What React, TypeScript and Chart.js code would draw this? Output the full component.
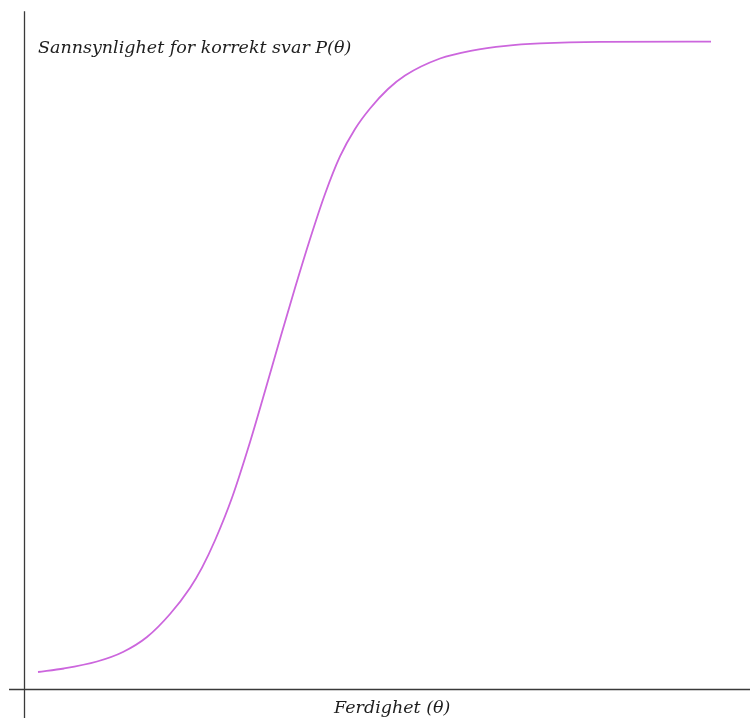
import React, { useEffect, useRef } from "react";
import { Chart, registerables } from "chart.js";

Chart.register(...registerables);

// Ability θ (arbitrary units, axis origin at 0) and probability of a correct answer P(θ)
const theta = [0.2, 0.571, 1.043, 1.414, 1.757, 2.086, 2.371, 2.543, 2.729, 2.971, 3.229, 3.443, 3.657, 3.871, 4.086, 4.3, 4.514, 4.729, 4.943, 5.2, 5.443, 5.943, 6.4, 6.886, 7.371, 8.229, 9.814];
const prob = [0.0262, 0.0316, 0.0424, 0.0571, 0.0802, 0.1157, 0.1559, 0.1873, 0.2295, 0.2951, 0.3812, 0.4599, 0.5401, 0.6188, 0.6944, 0.7639, 0.8218, 0.8642, 0.8958, 0.9259, 0.9468, 0.973, 0.9853, 0.9926, 0.9963, 0.9988, 0.9992];

const yTitle = "Sannsynlighet for korrekt svar P(\u03b8)";
const xTitle = "Ferdighet (\u03b8)";

const axesPlugin = {
  id: "customAxes",
  afterDraw(chart: any) {
    const { ctx, scales } = chart;
    const xs = scales.x;
    const ys = scales.y;
    const x0 = Math.round(xs.getPixelForValue(0)) + 0.5;
    const y0 = Math.round(ys.getPixelForValue(0)) + 0.5;
    ctx.save();
    ctx.strokeStyle = "#3a3a3a";
    ctx.lineWidth = 1.3;
    ctx.beginPath();
    ctx.moveTo(x0, ys.getPixelForValue(1.046));
    ctx.lineTo(x0, chart.height);
    ctx.moveTo(xs.getPixelForValue(-0.214), y0);
    ctx.lineTo(chart.width, y0);
    ctx.stroke();
    ctx.fillStyle = "#1e1e1e";
    ctx.font = "italic 17.5px 'DejaVu Serif'";
    ctx.textBaseline = "alphabetic";
    ctx.textAlign = "left";
    ctx.fillText(yTitle, xs.getPixelForValue(0.2), ys.getPixelForValue(0.981));
    ctx.textAlign = "center";
    ctx.fillText(xTitle, xs.getPixelForValue(5.26), chart.height - 5);
    ctx.restore();
  },
};

export default function App() {
  const ref = useRef<HTMLCanvasElement | null>(null);
  useEffect(() => {
    if (!ref.current) return;
    const chart = new Chart(ref.current, {
      type: "line",
      data: {
        datasets: [
          {
            data: theta.map((t, i) => ({ x: t, y: prob[i] })),
            borderColor: "#cc66dd",
            borderWidth: 1.8,
            pointRadius: 0,
            cubicInterpolationMode: "monotone",
            fill: false,
          },
        ],
      },
      options: {
        animation: false,
        responsive: false,
        maintainAspectRatio: false,
        layout: { padding: 0 },
        plugins: { legend: { display: false }, tooltip: { enabled: false }, title: { display: false } },
        scales: {
          x: { type: "linear", display: false, min: -0.343, max: 10.371 },
          y: { type: "linear", display: false, min: -0.0448, max: 1.0633 },
        },
      },
      plugins: [axesPlugin],
    } as any);
    return () => chart.destroy();
  }, []);
  return (
    <div style={{ position: "absolute", left: 0, top: 0, width: 750, height: 718, background: "#fff" }}>
      <canvas ref={ref} width={750} height={718} style={{ display: "block" }} />
    </div>
  );
}
